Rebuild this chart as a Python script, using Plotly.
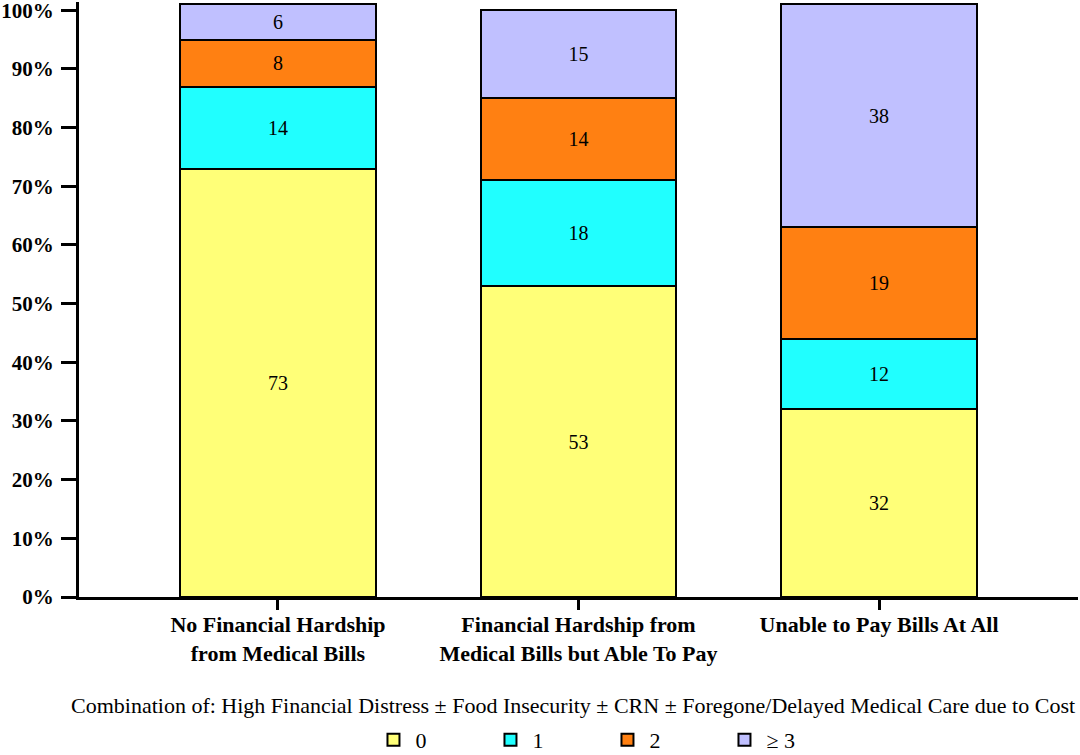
import plotly.graph_objects as go

categories = [
    "No Financial Hardship<br>from Medical Bills",
    "Financial Hardship from<br>Medical Bills but Able To Pay",
    "Unable to Pay Bills At All",
]
series_names = ["0", "1", "2", "\u2265 3"]
values_0 = [73, 53, 32]
values_1 = [14, 18, 12]
values_2 = [8, 14, 19]
values_3 = [6, 15, 38]
colors = ["#FFFF78", "#20FFFF", "#FF8012", "#C0C0FF"]
y_ticks = [0, 10, 20, 30, 40, 50, 60, 70, 80, 90, 100]
legend_title = ("Combination of: High Financial Distress \u00b1 Food Insecurity \u00b1 CRN "
                "\u00b1 Foregone/Delayed Medical Care due to Cost")

serif = "Liberation Serif, Times New Roman, serif"

fig = go.Figure()
for name, vals, col in zip(series_names, [values_0, values_1, values_2, values_3], colors):
    fig.add_trace(go.Bar(
        x=categories, y=vals, name=name,
        marker=dict(color=col, line=dict(color="black", width=2)),
        text=[str(v) for v in vals], textposition="inside",
        insidetextanchor="middle", textangle=0, constraintext="none",
        textfont=dict(family=serif, size=20, color="black"),
        width=0.652, hoverinfo="skip",
    ))

fig.update_layout(
    barmode="stack",
    width=1080, height=755,
    margin=dict(l=79, r=2, t=2, b=158, autoexpand=False),
    plot_bgcolor="white", paper_bgcolor="white",
    font=dict(family=serif, color="black"),
    showlegend=True,
    legend=dict(
        orientation="h", x=0.527, xanchor="center", y=-0.205, yanchor="top",
        font=dict(family=serif, size=22, color="black"),
        entrywidth=68, entrywidthmode="pixels", itemwidth=34,
        traceorder="normal",
    ),
    annotations=[dict(
        text=legend_title, xref="paper", yref="paper", x=0.494, y=-0.158,
        xanchor="center", yanchor="top", showarrow=False,
        font=dict(family=serif, size=22, color="black"),
    )],
)
fig.update_yaxes(
    range=[0, 101.4], tickvals=y_ticks, ticktext=[f"{v}%" for v in y_ticks],
    showgrid=False, zeroline=False, automargin=False,
    showline=True, linecolor="black", linewidth=3,
    ticks="outside", ticklen=15, tickwidth=3, tickcolor="black",
    ticklabelstandoff=3, ticklabeloverflow="allow",
    tickfont=dict(family=serif, size=21, color="black", weight="bold"),
)
fig.update_xaxes(
    type="category", range=[-0.662, 2.662], automargin=False,
    showgrid=False, showline=True, linecolor="black", linewidth=3,
    ticks="outside", ticklen=10, tickwidth=3, tickcolor="black",
    ticklabelstandoff=-4,
    tickfont=dict(family=serif, size=22, color="black", weight="bold"),
)

fig.write_html(
    "out.html",
    config={"displayModeBar": False},
    post_script="document.body.style.margin='0';document.body.style.overflow='hidden';",
)
